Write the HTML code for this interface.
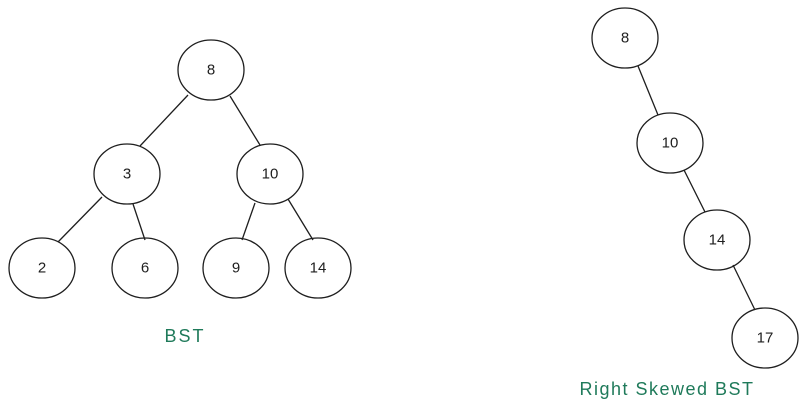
<!DOCTYPE html>
<html><head><meta charset="utf-8"><style>
html,body{margin:0;padding:0;background:#fff;}
svg{display:block}
text{font-family:"Liberation Sans",sans-serif;font-size:15px;fill:#1e1e1e;text-anchor:middle;dominant-baseline:central}
</style></head><body>
<svg width="808" height="414" viewBox="0 0 808 414" xmlns="http://www.w3.org/2000/svg">
<g fill="none" stroke="#1e1e1e" stroke-width="1.3">
<ellipse cx="211" cy="70" rx="33" ry="30"/>
<ellipse cx="127" cy="174" rx="33" ry="30"/>
<ellipse cx="270" cy="174" rx="33" ry="30"/>
<ellipse cx="42" cy="268" rx="33" ry="30"/>
<ellipse cx="145" cy="268" rx="33" ry="30"/>
<ellipse cx="236" cy="268" rx="33" ry="30"/>
<ellipse cx="318" cy="268" rx="33" ry="30"/>
<ellipse cx="625" cy="38" rx="33" ry="30"/>
<ellipse cx="670" cy="143" rx="33" ry="30"/>
<ellipse cx="717" cy="240" rx="33" ry="30"/>
<ellipse cx="765" cy="338" rx="33" ry="30"/>
<line x1="188" y1="95" x2="140" y2="146"/>
<line x1="230" y1="96" x2="260" y2="145"/>
<line x1="102" y1="197" x2="58" y2="242"/>
<line x1="133" y1="204" x2="145" y2="240"/>
<line x1="255" y1="203" x2="242" y2="240"/>
<line x1="288" y1="199" x2="313" y2="240"/>
<line x1="638" y1="66" x2="658" y2="115"/>
<line x1="684" y1="170" x2="705" y2="212"/>
<line x1="733" y1="265" x2="755" y2="310"/>
</g>
<text x="211" y="70">8</text>
<text x="127" y="174">3</text>
<text x="270" y="174">10</text>
<text x="42" y="268">2</text>
<text x="145" y="268">6</text>
<text x="236" y="268">9</text>
<text x="318" y="268">14</text>
<text x="625" y="38">8</text>
<text x="670" y="143">10</text>
<text x="717" y="240">14</text>
<text x="765" y="338">17</text>
<text x="185" y="336" style="fill:#1f7a5a;font-size:18px;letter-spacing:2px">BST</text>
<text x="667" y="389" style="fill:#1f7a5a;font-size:18px;letter-spacing:1.5px">Right Skewed BST</text>
</svg>
</body></html>
